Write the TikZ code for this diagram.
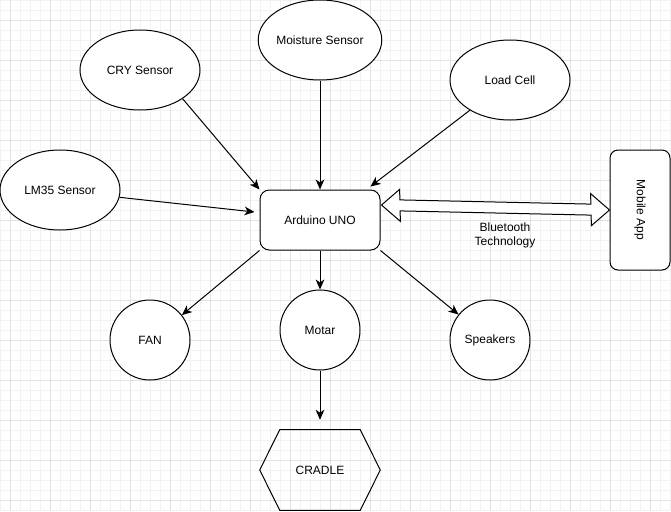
\documentclass[tikz,border=0pt]{standalone}
\usepackage{fontspec}
\setmainfont{Liberation Sans}
\usetikzlibrary{arrows.meta,calc,shapes.geometric}
\definecolor{gminor}{HTML}{F2F2F2}
\definecolor{gmajor}{HTML}{E2E2E2}
\begin{document}
\begin{tikzpicture}[x=0.75pt,y=-0.75pt,
  every node/.style={font=\fontsize{9}{10.5}\selectfont},
  ell/.style={draw,line width=0.75pt,ellipse,fill=white,inner sep=0pt,minimum width=90pt,minimum height=60pt},
  circ/.style={draw,line width=0.75pt,circle,fill=white,inner sep=0pt,minimum size=60pt},
  rbox/.style={draw,line width=0.75pt,rectangle,fill=white,rounded corners=7pt,inner sep=0pt},
  conn/.style={line width=0.75pt,-{Stealth[length=7.5pt,width=6.5pt,inset=2.2pt]}}]
\useasboundingbox (0,0) rectangle (671,511);
% grid
\foreach \x in {0,10,...,670} \draw[gminor,line width=0.6pt] (\x,0) -- (\x,511);
\foreach \y in {0,10,...,510} \draw[gminor,line width=0.6pt] (0,\y) -- (671,\y);
\foreach \x in {10,50,...,670} \draw[gmajor,line width=0.6pt] (\x,0) -- (\x,511);
\foreach \y in {20,60,...,500} \draw[gmajor,line width=0.6pt] (0,\y) -- (671,\y);
% nodes
\node[ell] (cry) at (140,70) {CRY Sensor};
\node[ell] (mois) at (320,40) {Moisture Sensor};
\node[ell] (load) at (510,80) {Load Cell};
\node[ell] (lm) at (60,190) {LM35 Sensor};
\node[rbox,minimum width=90pt,minimum height=45pt] (ard) at (320,220) {Arduino UNO};
\node[rbox,minimum width=45pt,minimum height=90pt,rounded corners=6pt] (app) at (640,210) {};
\node[rotate=-90] (applbl) at (640,210) {Mobile App};
\node[circ] (fan) at (150,340) {FAN};
\node[circ] (mot) at (320,330) {Motar};
\node[circ] (spk) at (490,340) {Speakers};
\node[minimum width=90pt,minimum height=60pt,inner sep=0pt] (cr) at (320,470) {CRADLE};
\draw[line width=0.75pt] (cr.west) -- ($(cr.north west)+(20,0)$) -- ($(cr.north east)+(-20,0)$)
  -- (cr.east) -- ($(cr.south east)+(-20,0)$) -- ($(cr.south west)+(20,0)$) -- cycle;
\node[align=center] (bt) at (505,235) {Bluetooth\\Technology};
% connectors
\draw[conn] (cry.-34) -- (ard.north west);
\draw[conn] (mois.south) -- (ard.north);
\draw[conn] (load.217) -- ([shift={(-10,-3)}]ard.north east);
\draw[conn] (lm.-7) -- ([shift={(-5,-8)}]ard.west);
\draw[conn] (ard.south west) -- (fan.38);
\draw[conn] (ard.south) -- (mot.north);
\draw[conn] (ard.south east) -- (spk.141);
\draw[conn] (mot.south) -- ([shift={(0,-10)}]cr.north);
% double block arrow between Arduino and Mobile App
\coordinate (bl) at ([shift={(1,-15)}]ard.east);
\coordinate (br) at (app.west);
\draw[line width=0.75pt,fill=white,line join=miter]
  (bl) -- (399.6,189.4) -- (399.9,199.9) -- (590.9,204.1) -- (590.6,193.6) -- (br)
  -- (591.4,225.6) -- (591.1,215.1) -- (400.1,210.9) -- (400.4,221.4) -- cycle;
\end{tikzpicture}
\end{document}
